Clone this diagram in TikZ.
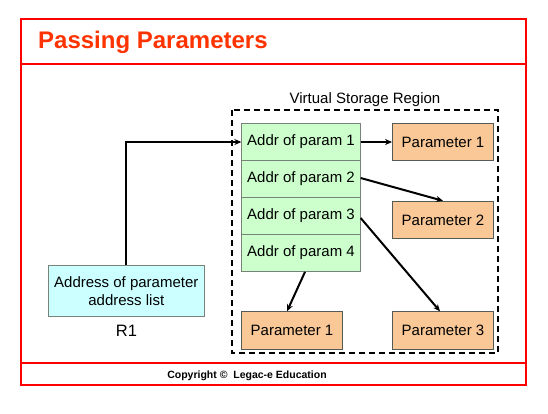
\documentclass[tikz,border=0pt]{standalone}
\usepackage{fontspec}
\setmainfont{Liberation Sans}
\usetikzlibrary{arrows.meta}
\definecolor{frame}{RGB}{255,0,0}
\definecolor{titlered}{RGB}{255,51,0}
\definecolor{grfill}{RGB}{204,255,204}
\definecolor{orfill}{RGB}{250,200,150}
\definecolor{cyfill}{RGB}{204,255,255}
\definecolor{boxline}{RGB}{120,130,120}
\tikzset{
  txt/.style={font=\fontsize{15}{18}\selectfont, inner sep=0pt},
  addrbox/.style={txt, draw=boxline, fill=grfill, line width=0.8pt, minimum width=118.5pt, minimum height=37pt},
  parbox/.style={txt, draw=boxline!70!black, fill=orfill, line width=0.9pt, minimum width=101pt, minimum height=37.5pt},
  regbox/.style={txt, draw=boxline, fill=cyfill, line width=0.8pt, minimum width=156pt, minimum height=51.7pt, align=center},
  arr/.style={line width=2pt, -{Stealth[length=7pt,width=6pt]}},
}
\begin{document}
\begin{tikzpicture}[x=1pt,y=-1pt]
\useasboundingbox (0,0) rectangle (548,413);
% frame
\draw[frame, line width=2.4pt] (21,19) rectangle (526,385);
\draw[frame, line width=2.4pt] (21,64) -- (526,64);
\draw[frame, line width=2.4pt] (21,363) -- (526,363);
\node[anchor=west, text=titlered, font=\bfseries\fontsize{24}{28}\selectfont, inner sep=0pt] (title) at (38,42) {Passing Parameters};
\node[font=\bfseries\fontsize{10.5}{12}\selectfont, inner sep=0pt] (copy) at (247,376) {Copyright \textcopyright\ \ Legac-e Education};
% virtual storage region
\draw[line width=2pt, dash pattern=on 6pt off 4pt] (232,110) rectangle (498,353);
\node[txt] (vsr) at (365,100) {Virtual Storage Region};
% address list
\node[addrbox] (a1) at (301,142) {Addr of param 1};
\node[addrbox] (a2) at (301,179) {Addr of param 2};
\node[addrbox] (a3) at (301,216) {Addr of param 3};
\node[addrbox] (a4) at (301,253) {Addr of param 4};
% parameters
\node[parbox] (p1) at (443,142) {Parameter 1};
\node[parbox] (p2) at (443,220) {Parameter 2};
\node[parbox] (pb1) at (292,330.5) {Parameter 1};
\node[parbox] (p3) at (443,330.5) {Parameter 3};
% register
\node[regbox] (r1) at (126.3,291) {Address of parameter\\address list};
\node[txt, font=\fontsize{16.5}{19}\selectfont] (r1lab) at (126.5,331) {R1};
% arrows
\draw[arr] (r1.north) |- (a1.west);
\draw[arr] (a1.east) -- (p1.west);
\draw[arr] ([yshift=1pt]a2.east) -- (p2.north);
\draw[arr] ([yshift=-2pt]a3.east) -- ([xshift=-3pt]p3.north);
\draw[arr] ([xshift=4pt]a4.south) -- ([xshift=-5pt]pb1.north);
\end{tikzpicture}
\end{document}
